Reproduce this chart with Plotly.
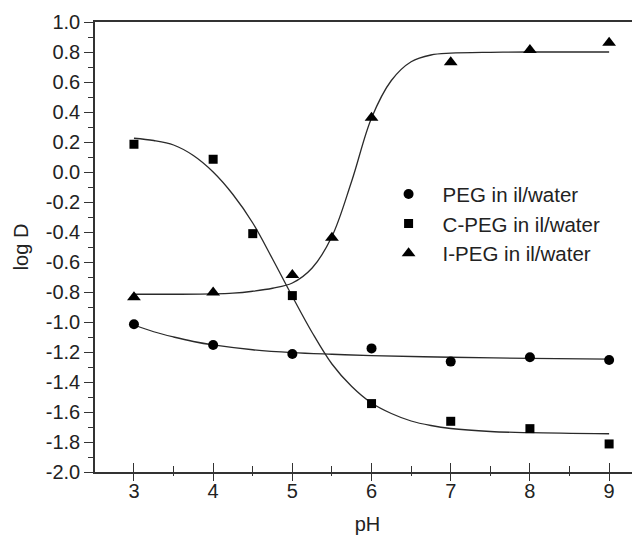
import plotly.graph_objects as go

# ---- data ----
ph_peg = [3, 4, 5, 6, 7, 8, 9]
logd_peg = [-1.015, -1.153, -1.213, -1.176, -1.264, -1.235, -1.253]

ph_cpeg = [3, 4, 4.5, 5, 6, 7, 8, 9]
logd_cpeg = [0.185, 0.085, -0.411, -0.824, -1.544, -1.662, -1.711, -1.813]

ph_ipeg = [3, 4, 5, 5.5, 6, 7, 8, 9]
logd_ipeg = [-0.835, -0.804, -0.687, -0.438, 0.362, 0.731, 0.813, 0.862]

# fitted curves
fit_peg_x = [3, 3.25, 3.5, 3.75, 4, 4.5, 5, 5.5, 6, 7, 8, 9]
fit_peg_y = [-1.02, -1.065, -1.10, -1.13, -1.153, -1.185, -1.204, -1.215, -1.224, -1.235, -1.242, -1.247]

fit_cpeg_x = [3, 3.25, 3.5, 3.75, 4, 4.25, 4.5, 4.75, 5, 5.25, 5.5, 5.75, 6, 6.25, 6.5, 6.75, 7, 7.5, 8, 9]
fit_cpeg_y = [0.225, 0.21, 0.18, 0.11, 0.0, -0.15, -0.34, -0.58, -0.83, -1.07, -1.28, -1.43, -1.54, -1.61,
              -1.66, -1.69, -1.71, -1.73, -1.738, -1.745]

fit_ipeg_x = [3, 3.5, 4, 4.25, 4.5, 4.75, 5, 5.25, 5.5, 5.75, 6, 6.25, 6.5, 6.75, 7, 7.5, 8, 9]
fit_ipeg_y = [-0.815, -0.815, -0.813, -0.808, -0.795, -0.775, -0.74, -0.64, -0.43, -0.06, 0.36, 0.61,
              0.735, 0.78, 0.792, 0.798, 0.80, 0.80]

x_ticks = [3, 4, 5, 6, 7, 8, 9]
y_ticks = [1.0, 0.8, 0.6, 0.4, 0.2, 0.0, -0.2, -0.4, -0.6, -0.8, -1.0,
           -1.2, -1.4, -1.6, -1.8, -2.0]
y_labels = ["1.0", "0.8", "0.6", "0.4", "0.2", "0.0", "-0.2", "-0.4", "-0.6",
            "-0.8", "-1.0", "-1.2", "-1.4", "-1.6", "-1.8", "-2.0"]

series_names = ["PEG in il/water", "C-PEG in il/water", "I-PEG in il/water"]

FONT = "Liberation Sans, Arial, sans-serif"
AX = "#333333"
LINE = "#2a2a2a"

fig = go.Figure()

for fx, fy in [(fit_peg_x, fit_peg_y), (fit_cpeg_x, fit_cpeg_y), (fit_ipeg_x, fit_ipeg_y)]:
    fig.add_trace(go.Scatter(x=fx, y=fy, mode="lines",
                             line=dict(color=LINE, width=1.3, shape="spline", smoothing=1.0),
                             showlegend=False, hoverinfo="skip"))

fig.add_trace(go.Scatter(x=ph_peg, y=logd_peg, mode="markers", name=series_names[0],
                         marker=dict(symbol="circle", size=10, color="black")))
fig.add_trace(go.Scatter(x=ph_cpeg, y=logd_cpeg, mode="markers", name=series_names[1],
                         marker=dict(symbol="square", size=9, color="black")))
fig.add_trace(go.Scatter(x=ph_ipeg, y=logd_ipeg, mode="markers", name=series_names[2],
                         marker=dict(symbol="triangle-up", size=12, color="black")))

# invisible traces for the overlay axes (outer and inner halves of crossing ticks)
for xa in ["x2", "x3"]:
    fig.add_trace(go.Scatter(x=[3], y=[0], xaxis=xa, mode="markers", marker=dict(opacity=0),
                             showlegend=False, hoverinfo="skip"))

xr = [2.508, 9.39]
tick_common = dict(range=xr, overlaying="x", side="bottom", anchor="y", showgrid=False, zeroline=False,
                   showline=False, showticklabels=False, tickmode="array", tickvals=x_ticks,
                   tickwidth=1.3, tickcolor=AX, automargin=False)

fig.update_layout(
    width=632, height=527,
    margin=dict(l=87, r=0, t=14, b=63),
    paper_bgcolor="white", plot_bgcolor="white",
    font=dict(family=FONT, size=20, color="#222"),
    showlegend=True,
    legend=dict(x=0.513, y=0.662, xanchor="left", yanchor="top", itemwidth=58,
                font=dict(family=FONT, size=20.5, color="#222"),
                bgcolor="rgba(0,0,0,0)", tracegroupgap=0),
    xaxis=dict(range=xr, showgrid=False, zeroline=False, automargin=False,
               showline=True, linecolor=AX, linewidth=1.5, mirror=True,
               tickmode="array", tickvals=x_ticks, ticks="",
               tickfont=dict(size=20, color="#222"),
               title=dict(text="pH", font=dict(size=20, color="#222"), standoff=29)),
    xaxis2=dict(**tick_common, ticks="outside", ticklen=8,
                minor=dict(tickmode="linear", tick0=2.5, dtick=0.5, ticks="outside", ticklen=3,
                           tickwidth=1.3, tickcolor=AX)),
    xaxis3=dict(**tick_common, ticks="inside", ticklen=9,
                minor=dict(tickmode="linear", tick0=2.5, dtick=0.5, ticks="inside", ticklen=6,
                           tickwidth=1.3, tickcolor=AX)),
    yaxis=dict(range=[-2.0, 1.0], showgrid=False, zeroline=False, automargin=False,
               showline=True, linecolor=AX, linewidth=1.5,
               tickmode="array", tickvals=y_ticks, ticktext=y_labels,
               ticks="outside", ticklen=9, tickwidth=1.3, tickcolor=AX,
               minor=dict(tickmode="linear", tick0=0, dtick=0.1, ticks="outside", ticklen=5, tickwidth=1.3, tickcolor=AX),
               tickfont=dict(size=20, color="#222"),
               title=dict(text="log D", font=dict(size=20, color="#222"), standoff=12)),
)

fig.write_html("out.html")
